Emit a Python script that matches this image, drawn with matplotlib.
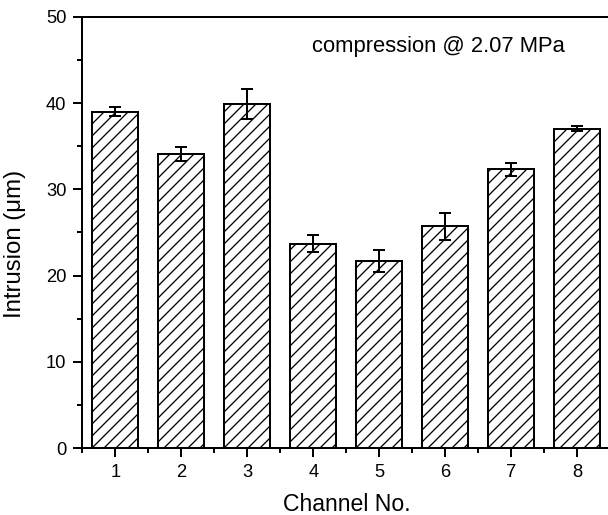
import matplotlib
matplotlib.use("Agg")
import matplotlib.pyplot as plt
from matplotlib.ticker import MultipleLocator, FixedLocator

channels = [1, 2, 3, 4, 5, 6, 7, 8]
intrusion = [39.0, 34.1, 39.9, 23.7, 21.7, 25.7, 32.3, 37.0]
intrusion_err = [0.5, 0.85, 1.7, 1.0, 1.3, 1.6, 0.8, 0.3]
y_ticks = [0, 10, 20, 30, 40, 50]

plt.rcParams["font.family"] = ["Liberation Sans", "DejaVu Sans"]
plt.rcParams["hatch.linewidth"] = 0.65
plt.rcParams["hatch.color"] = "black"

DPI = 144
fig = plt.figure(figsize=(608 / DPI, 515 / DPI), dpi=DPI)
ax = fig.add_axes([0.1354, 0.1295, 0.8684, 0.8381])

ax.bar(channels, intrusion, width=0.7, facecolor="white", edgecolor="black",
       linewidth=1.0, hatch="////", zorder=2)
ax.errorbar(channels, intrusion, yerr=intrusion_err, fmt="none", ecolor="black",
            elinewidth=1.0, capsize=3.2, capthick=1.0, zorder=3)

ax.set_xlim(0.5, 8.5)
ax.set_ylim(0, 50)
ax.set_xticks(channels)
ax.set_xticklabels([str(c) for c in channels])
ax.xaxis.set_minor_locator(FixedLocator([c - 0.5 for c in channels] + [8.5]))
ax.set_yticks(y_ticks)
ax.yaxis.set_minor_locator(MultipleLocator(5))

ax.tick_params(which="major", direction="out", length=4.5, width=1.0,
               labelsize=9.2, pad=3.5, top=False, right=False)
ax.tick_params(which="minor", direction="out", length=2.5, width=1.0,
               top=False, right=False)
for s in ax.spines.values():
    s.set_linewidth(1.0)

ax.set_xlabel("Channel No.", fontsize=11.5, labelpad=6)
ax.set_ylabel("Intrusion (\u03bcm)", fontsize=12)
ax.yaxis.set_label_coords(-0.106, 0.473)

ax.text(0.435, 0.919, "compression @ 2.07 MPa", transform=ax.transAxes,
        fontsize=11, ha="left", va="baseline")

fig.savefig("out.png", dpi=DPI)
